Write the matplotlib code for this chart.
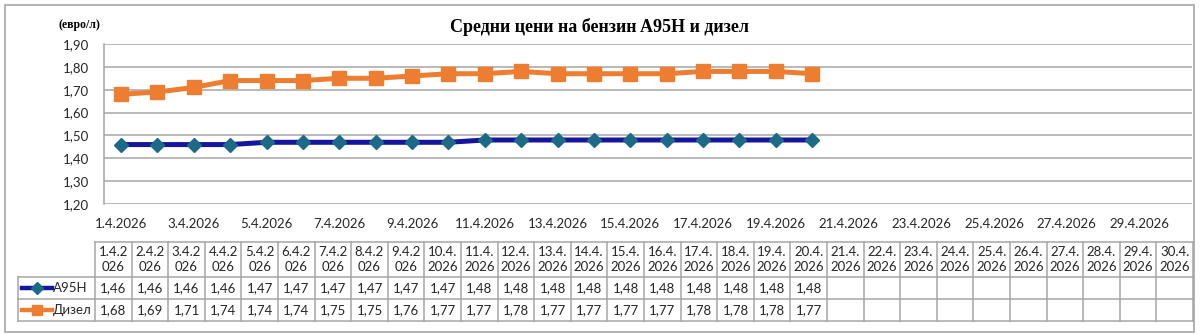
import matplotlib
matplotlib.use("Agg")
import matplotlib.pyplot as plt
from matplotlib.patches import Rectangle

plt.rcParams['font.family'] = ['Lato', 'DejaVu Sans']

# daily average prices, April 2026 (euro per litre)
days = list(range(1, 31))
day_labels = [f"{d}.4.2026" for d in days]
a95h = [1.46, 1.46, 1.46, 1.46, 1.47, 1.47, 1.47, 1.47, 1.47, 1.47,
        1.48, 1.48, 1.48, 1.48, 1.48, 1.48, 1.48, 1.48, 1.48, 1.48]
diesel = [1.68, 1.69, 1.71, 1.74, 1.74, 1.74, 1.75, 1.75, 1.76, 1.77,
          1.77, 1.78, 1.77, 1.77, 1.77, 1.77, 1.78, 1.78, 1.78, 1.77]
series_names = ["A95H", "Дизел"]
y_ticks = [1.20, 1.30, 1.40, 1.50, 1.60, 1.70, 1.80, 1.90]

W, H = 1200, 334
GRID = "#a6a6a6"
NAVY = "#16169c"
TEAL = "#1d6a88"
ORANGE = "#ed7d31"


def box(x0, y0, x1, y1):
    # pixel box (top-left origin) -> figure fraction rect
    return [x0 / W, 1 - y1 / H, (x1 - x0) / W, (y1 - y0) / H]


fig = plt.figure(figsize=(12, 3.34), dpi=100)

# chart border
fig.patches.append(Rectangle((5 / W, 1 - 332 / H), 1189 / W, 327 / H,
                             transform=fig.transFigure, fill=False,
                             edgecolor=GRID, linewidth=1.2))

ax = fig.add_axes(box(104, 44, 1192, 204))
x_a = days[:len(a95h)]
x_d = days[:len(diesel)]
ax.plot(x_d, diesel, color=ORANGE, linewidth=3.6, marker="s",
        markersize=9.5, markerfacecolor=ORANGE, markeredgecolor=ORANGE,
        zorder=3)
ax.plot(x_a, a95h, color=NAVY, linewidth=3.6, marker="D",
        markersize=7.5, markerfacecolor=TEAL, markeredgecolor=TEAL,
        zorder=3)

ax.set_xlim(0.53, 30.44)
ax.set_ylim(1.2, 1.9)
ax.set_yticks(y_ticks)
ax.set_yticklabels([f"{v:.2f}".replace(".", ",") for v in y_ticks])
ax.set_xticks(days[::2])
ax.set_xticklabels(day_labels[::2])
ax.tick_params(axis="both", length=0, labelsize=9.5, colors="#262626")
ax.tick_params(axis="y", pad=11)
ax.tick_params(axis="x", pad=10)
ax.grid(axis="y", color=GRID, linewidth=1.1)
ax.set_axisbelow(True)
for side in ["top", "right", "bottom"]:
    ax.spines[side].set_visible(False)
ax.spines["left"].set_color(GRID)
ax.spines["left"].set_linewidth(1.1)

fig.text(599 / W, 1 - 27 / H, "Средни цени на бензин A95H и дизел",
         ha="center", va="center", fontsize=13, fontweight="bold",
         family="Liberation Serif")
fig.text(79 / W, 1 - 25 / H, "(евро/л)", ha="center", va="center",
         fontsize=8.5, fontweight="bold", family="Liberation Serif")

# data table under the chart
col_w = 36.6
lab_w = 77 / col_w
rows = [0, 35, 57, 79]
tax = fig.add_axes(box(18, 242, 1193, 321))
tax.set_xlim(-lab_w, len(days))
tax.set_ylim(rows[-1], 0)
tax.axis("off")

lw = 1.1
tax.plot([0, len(days)], [0, 0], color=GRID, linewidth=lw, clip_on=False)
for y in rows[1:]:
    tax.plot([-lab_w, len(days)], [y, y], color=GRID, linewidth=lw,
             clip_on=False)
for i in range(len(days) + 1):
    tax.plot([i, i], [0, rows[-1]], color=GRID, linewidth=lw, clip_on=False)
tax.plot([-lab_w, -lab_w], [rows[1], rows[-1]], color=GRID, linewidth=lw,
         clip_on=False)

for i, d in enumerate(days):
    lab = f"{d}.4.2026"
    lab = lab[:5] + "\n" + lab[5:]
    tax.text(i + 0.5, (rows[0] + rows[1]) / 2, lab, ha="center",
             va="center", fontsize=9.5, linespacing=1.25, color="#262626")

for r, vals in enumerate([a95h, diesel]):
    yc = (rows[r + 1] + rows[r + 2]) / 2
    for i, v in enumerate(vals):
        tax.text(i + 0.5, yc, f"{v:.2f}".replace(".", ","), ha="center",
                 va="center", fontsize=9.5, color="#262626")

# legend keys in the row header cells
k0 = (22 - 95) / col_w
k1 = (52 - 95) / col_w
km = (k0 + k1) / 2
keys = [(NAVY, "D", TEAL, 6), (ORANGE, "s", ORANGE, 7.5)]
for r, (name, (lc, mk, mc, ms)) in enumerate(zip(series_names, keys)):
    yc = (rows[r + 1] + rows[r + 2]) / 2
    tax.plot([k0, k1], [yc, yc], color=lc, linewidth=3.2, clip_on=False)
    tax.plot([km], [yc], marker=mk, markersize=ms, color=mc, clip_on=False)
    tax.text((53 - 95) / col_w, yc, name, ha="left", va="center",
             fontsize=9.5, color="#262626")

fig.savefig("out.png", dpi=100)
